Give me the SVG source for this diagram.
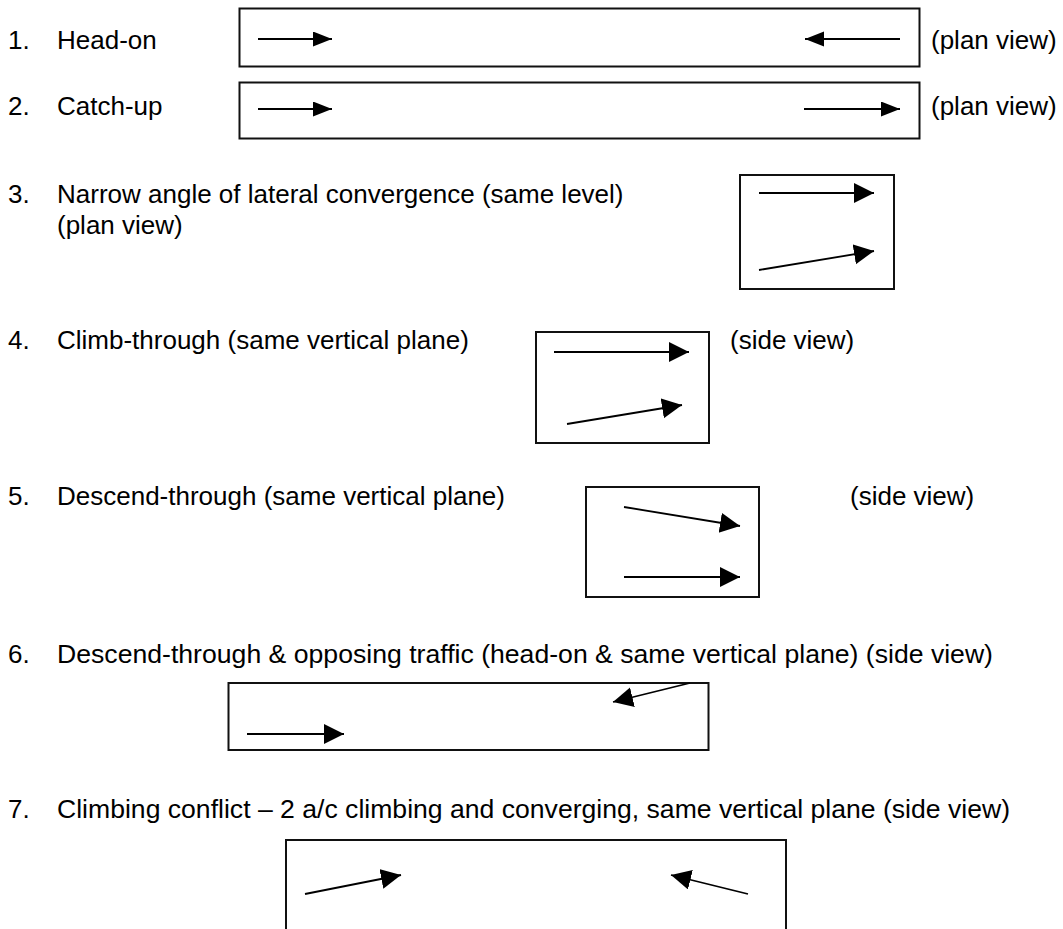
<svg xmlns="http://www.w3.org/2000/svg" width="1063" height="929" viewBox="0 0 1063 929">
<style>
text{font-family:"Liberation Sans",Arial,sans-serif;font-size:26px;fill:#000}
.box{fill:none;stroke:#111;stroke-width:2}
.ac{fill:none;stroke:#000;stroke-width:1.8}
.s{marker-end:url(#hs)}
.l{marker-end:url(#hl)}
</style>
<defs>
<marker id="hs" markerUnits="userSpaceOnUse" markerWidth="20" markerHeight="16" refX="19" refY="7.5" orient="auto" viewBox="0 0 20 16"><path d="M0,0 L19,7.5 L0,15 z" fill="#000"/></marker>
<marker id="hl" markerUnits="userSpaceOnUse" markerWidth="21" markerHeight="21" refX="20" refY="10" orient="auto" viewBox="0 0 21 21"><path d="M0,0 L20,10 L0,20 z" fill="#000"/></marker>
</defs>
<rect width="1063" height="929" fill="#fff"/>
<g id="item1">
<text x="8" y="49">1.</text><text x="57" y="49">Head-on</text>
<rect class="box" x="239.5" y="8.5" width="680" height="58"/>
<text x="931" y="49">(plan view)</text>
</g>
<g id="item2">
<text x="8" y="115">2.</text><text x="57" y="115">Catch-up</text>
<rect class="box" x="239.5" y="82.5" width="680" height="56"/>
<text x="931" y="115">(plan view)</text>
</g>
<g id="item3">
<text x="8" y="203">3.</text><text x="57" y="203">Narrow angle of lateral convergence (same level)</text>
<text x="57" y="234">(plan view)</text>
<rect class="box" x="740" y="175" width="154" height="114"/>
</g>
<g id="item4">
<text x="8" y="349">4.</text><text x="57" y="349">Climb-through (same vertical plane)</text>
<rect class="box" x="536" y="332" width="173" height="111"/>
<text x="730" y="349">(side view)</text>
</g>
<g id="item5">
<text x="8" y="505">5.</text><text x="57" y="505">Descend-through (same vertical plane)</text>
<rect class="box" x="586" y="487" width="173" height="110"/>
<text x="850" y="505">(side view)</text>
</g>
<g id="item6">
<text x="8" y="663">6.</text><text x="57" y="663" textLength="936" lengthAdjust="spacingAndGlyphs">Descend-through &amp; opposing traffic (head-on &amp; same vertical plane) (side view)</text>
<rect class="box" x="228.5" y="683" width="480" height="67"/>
</g>
<g id="item7">
<text x="8" y="818">7.</text><text x="57" y="818" textLength="953" lengthAdjust="spacingAndGlyphs">Climbing conflict – 2 a/c climbing and converging, same vertical plane (side view)</text>
<path class="box" d="M286,935 V840 H786 V935"/>
</g>
<g id="connectors">
<line class="ac s" x1="258" y1="39" x2="332" y2="39"/>
<line class="ac s" x1="900" y1="39" x2="805" y2="39"/>
<line class="ac s" x1="258" y1="109" x2="332" y2="109"/>
<line class="ac s" x1="804" y1="109" x2="900" y2="109"/>
<line class="ac l" x1="759" y1="193" x2="874" y2="193"/>
<line class="ac l" x1="759" y1="270" x2="874" y2="251"/>
<line class="ac l" x1="554" y1="352" x2="689" y2="352"/>
<line class="ac l" x1="567" y1="424" x2="682" y2="405"/>
<line class="ac l" x1="624" y1="507" x2="740" y2="526"/>
<line class="ac l" x1="624" y1="577" x2="740" y2="577"/>
<line class="ac l" x1="247" y1="734" x2="344" y2="734"/>
<line class="ac l" x1="690" y1="683" x2="613" y2="702"/>
<line class="ac l" x1="305" y1="894" x2="401" y2="875"/>
<line class="ac l" x1="748" y1="894" x2="671" y2="875"/>
</g>
</svg>
